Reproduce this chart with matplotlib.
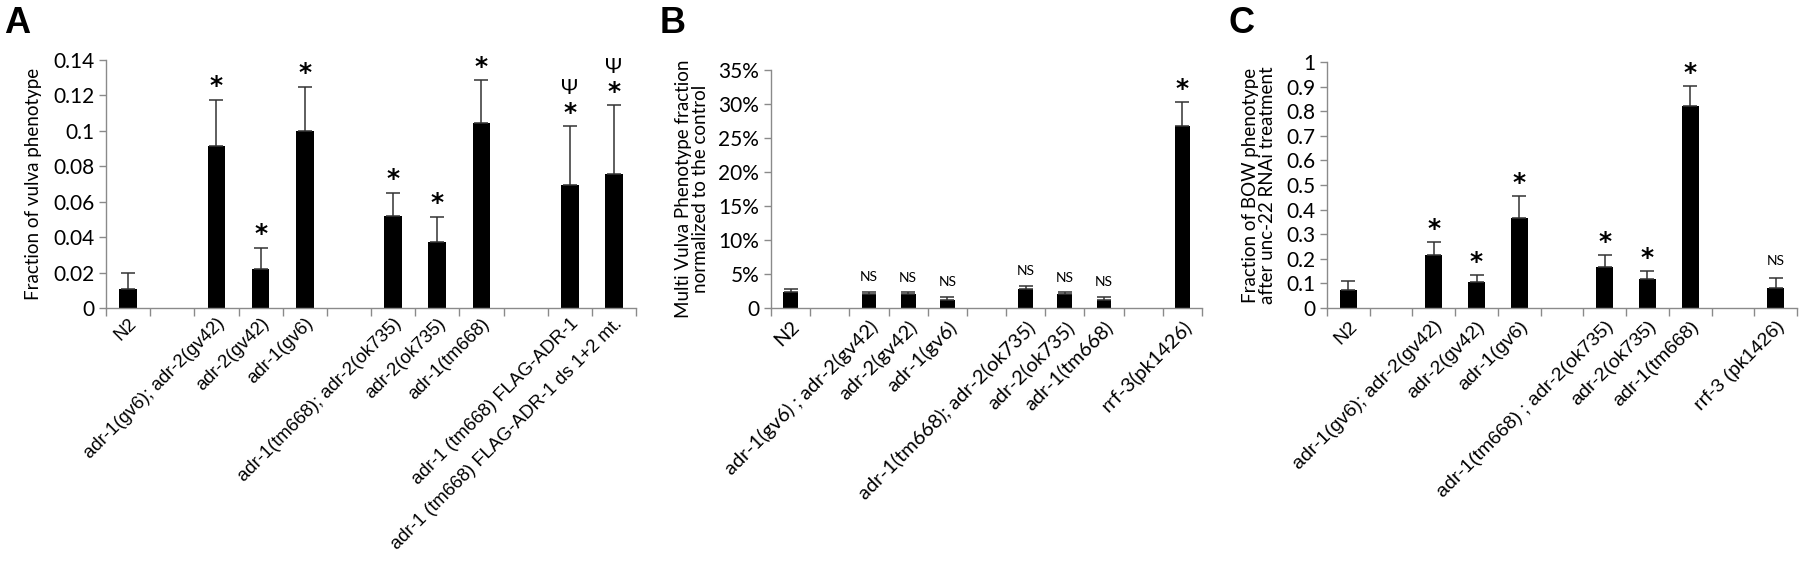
import numpy as np
import matplotlib
matplotlib.use("Agg")
from matplotlib import pyplot as plt
from matplotlib.ticker import FixedLocator, FuncFormatter

# ---- panel A : fraction of vulva phenotype
labels_a = ['N2', '', 'adr-1(gv6); adr-2(gv42)', 'adr-2(gv42)', 'adr-1(gv6)', '',
            'adr-1(tm668); adr-2(ok735)', 'adr-2(ok735)', 'adr-1(tm668)', '',
            'adr-1 (tm668) FLAG-ADR-1', 'adr-1 (tm668) FLAG-ADR-1 ds 1+2 mt.']
vals_a = [0.0105, np.nan, 0.0915, 0.022, 0.100, np.nan, 0.0517, 0.037, 0.1047, np.nan, 0.0692, 0.0755]
errs_a = [0.009, 0, 0.026, 0.012, 0.025, 0, 0.0134, 0.0145, 0.024, 0, 0.0336, 0.039]
star_a = ['', '', '*', '*', '*', '', '*', '*', '*', '', '*', '*']
psi_a = ['', '', '', '', '', '', '', '', '', '', 'Ψ', 'Ψ']

# ---- panel B : multi vulva (%)
labels_b = ['N2', '', 'adr-1(gv6) ; adr-2(gv42)', 'adr-2(gv42)', 'adr-1(gv6)', '',
            'adr-1(tm668); adr-2(ok735)', 'adr-2(ok735)', 'adr-1(tm668)', '', 'rrf-3(pk1426)']
vals_b = [2.3, np.nan, 2.05, 2.05, 1.25, np.nan, 2.8, 2.05, 1.25, np.nan, 26.7]
errs_b = [0.55, 0, 0.35, 0.3, 0.4, 0, 0.5, 0.3, 0.4, 0, 3.6]
mark_b = ['', '', 'NS', 'NS', 'NS', '', 'NS', 'NS', 'NS', '', '*']

# ---- panel C : BOW phenotype
labels_c = ['N2', '', 'adr-1(gv6); adr-2(gv42)', 'adr-2(gv42)', 'adr-1(gv6)', '',
            'adr-1(tm668) ; adr-2(ok735)', 'adr-2(ok735)', 'adr-1(tm668)', '', 'rrf-3 (pk1426)']
vals_c = [0.072, np.nan, 0.217, 0.104, 0.364, np.nan, 0.168, 0.118, 0.820, np.nan, 0.080]
errs_c = [0.036, 0, 0.050, 0.030, 0.090, 0, 0.046, 0.032, 0.081, 0, 0.042]
mark_c = ['', '', '*', '*', '*', '', '*', '*', '*', '', 'NS']

GRAY = '#8a8a8a'
CAL = ['Lato', 'DejaVu Sans']
ARIAL = ['Liberation Sans', 'DejaVu Sans']


def panel(ax, labels, vals, errs, ymax, step, xfont, width=0.4, xsize=14, xpad=7):
    n = len(labels)
    x = np.arange(n)
    v = np.array(vals, dtype=float)
    ax.bar(x, np.nan_to_num(v), width=width, color='black', zorder=2)
    ok = ~np.isnan(v)
    ax.errorbar(x[ok], v[ok], yerr=[np.zeros(ok.sum()), np.array(errs)[ok]],
                fmt='none', ecolor='#333333', elinewidth=1.1, capsize=5, capthick=1.1, zorder=3)
    ax.set_xlim(-0.5, n - 0.5)
    ax.set_ylim(0, ymax)
    for s in ['top', 'right']:
        ax.spines[s].set_visible(False)
    for s in ['left', 'bottom']:
        ax.spines[s].set_color(GRAY)
        ax.spines[s].set_linewidth(1.0)
    ax.xaxis.set_major_locator(FixedLocator(np.arange(n + 1) - 0.5))
    ax.xaxis.set_major_formatter(FuncFormatter(lambda a, b: ''))
    ax.xaxis.set_minor_locator(FixedLocator(x))
    ax.set_xticklabels(labels, minor=True, rotation=45, ha='right', rotation_mode='anchor',
                       family=xfont, fontsize=xsize)
    ax.tick_params(axis='x', which='major', direction='out', length=6, color=GRAY, width=1)
    ax.tick_params(axis='x', which='minor', length=0, pad=xpad)
    ax.set_yticks(np.arange(0, ymax + step / 2, step))
    ax.tick_params(axis='y', direction='out', length=5, color=GRAY, width=1, labelsize=15)
    for t in ax.get_yticklabels():
        t.set_family(CAL)
    return x


def mark(ax, x, top, txt, dy=1):
    if txt == '*':
        ax.annotate('*', (x, top), xytext=(0, dy), textcoords='offset points',
                    ha='center', va='bottom', fontsize=18, fontweight='bold')
    else:
        ax.annotate(txt, (x, top), xytext=(0, dy), textcoords='offset points',
                    ha='center', va='bottom', fontsize=10, family=CAL)


fig = plt.figure(figsize=(18, 5.61), dpi=100)
H = 561.0
W = 1800.0

axA = fig.add_axes([106 / W, (H - 308) / H, 530 / W, 248 / H])
axB = fig.add_axes([771 / W, (H - 308) / H, 431 / W, 238 / H])
axC = fig.add_axes([1327 / W, (H - 308) / H, 470 / W, 246 / H])

# A
xa = panel(axA, labels_a, vals_a, errs_a, 0.14, 0.02, ARIAL, xsize=13.3, xpad=5)
axA.yaxis.set_major_formatter(FuncFormatter(lambda v, p: '0' if abs(v) < 1e-9 else f'{round(v, 2):g}'))
axA.set_ylabel('Fraction of vulva phenotype', family=CAL, fontsize=13.5, labelpad=8)
for i in range(len(vals_a)):
    if star_a[i]:
        top = vals_a[i] + errs_a[i]
        mark(axA, xa[i], top, '*')
        if psi_a[i]:
            axA.annotate(psi_a[i], (xa[i], top), xytext=(0, 20), textcoords='offset points',
                         ha='center', va='bottom', fontsize=15, family=CAL)

# B
xb = panel(axB, labels_b, vals_b, errs_b, 35, 5, CAL, width=0.38, xsize=14.5)
axB.yaxis.set_major_formatter(FuncFormatter(lambda v, p: '0' if abs(v) < 1e-9 else f'{v:.0f}%'))
axB.set_ylabel('Multi Vulva Phenotype fraction\nnormalized to the control', family=CAL,
               fontsize=13.5, labelpad=7, linespacing=1.0)
for i in range(len(vals_b)):
    if mark_b[i]:
        mark(axB, xb[i], vals_b[i] + errs_b[i], mark_b[i], dy=6 if mark_b[i] == 'NS' else 1)

# C
xc = panel(axC, labels_c, vals_c, errs_c, 1.0, 0.1, ARIAL)
axC.yaxis.set_major_formatter(FuncFormatter(lambda v, p: '0' if abs(v) < 1e-9 else f'{round(v, 1):g}'))
axC.set_ylabel('Fraction of BOW phenotype\nafter unc-22 RNAi treatment', family=CAL,
               fontsize=13.5, labelpad=7, linespacing=1.0)
for i in range(len(vals_c)):
    if mark_c[i]:
        mark(axC, xc[i], vals_c[i] + errs_c[i], mark_c[i], dy=8 if mark_c[i] == 'NS' else 1)

# panel letters
for lab, xp in [('A', 4), ('B', 660), ('C', 1228)]:
    fig.text(xp / W, 1 - 6 / H, lab, ha='left', va='top', fontsize=26, fontweight='bold', family=ARIAL)

fig.savefig('out.png', dpi=100)
